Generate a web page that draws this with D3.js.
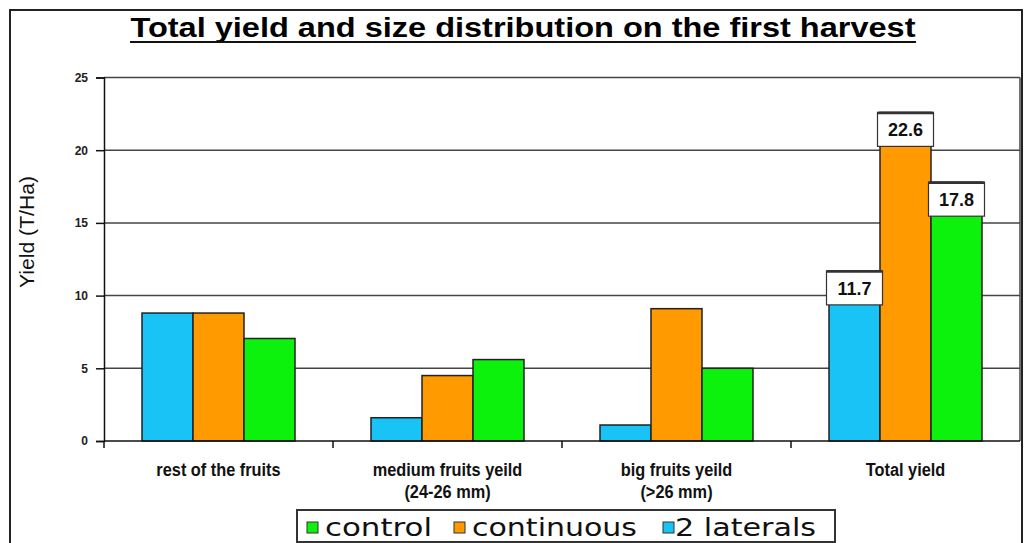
<!DOCTYPE html>
<meta charset="utf-8">
<script src="https://d3js.org/d3.v7.min.js"></script>
<style>
  body { margin: 0; background: #fff; }
  text { font-family: "Liberation Sans", Arial, sans-serif; }
</style>
<svg id="chart" width="1026" height="543"></svg>
<script>

// categories, each one split in the lines it is written on
const categories = ["rest", "medium", "big", "total"]
const categoryLines = [
  ["rest of the fruits"],
  ["medium fruits yeild", "(24-26 mm)"],
  ["big fruits yeild", "(>26 mm)"],
  ["Total yield"]
]

// series, in the order the bars are drawn inside a group
const seriesNames = ["2 laterals", "continuous", "control"]
const seriesColors = ["#19C3F5", "#FF9A00", "#0CF20C"]

// values (T/Ha)
const laterals   = [8.8, 1.6, 1.1, 11.7]
const continuous = [8.8, 4.5, 9.1, 22.6]
const control    = [7.05, 5.6, 5.0, 17.8]

const yTicks = [0, 5, 10, 15, 20, 25]
const legendOrder = ["control", "continuous", "2 laterals"]

const svg = d3.select("#chart")

const margin = {left: 104, right: 1020, top: 77.5, bottom: 441}

const values = [laterals, continuous, control]
const data = categories.map((c, i) => ({
  cat: c,
  bars: seriesNames.map((s, j) => ({series: s, value: values[j][i], color: seriesColors[j]}))
}))

// outer frame
svg.append("rect")
  .attr("x", 10).attr("y", 10)
  .attr("width", 1012).attr("height", 600)
  .attr("fill", "none")
  .attr("stroke", "#222")
  .attr("stroke-width", 2)

// title
svg.append("text")
  .attr("x", 523)
  .attr("y", 37)
  .attr("text-anchor", "middle")
  .style("font-weight", "bold")
  .style("font-size", "27px")
  .attr("textLength", 785)
  .attr("lengthAdjust", "spacingAndGlyphs")
  .text("Total yield and size distribution on the first harvest")
svg.append("line")
  .attr("x1", 130).attr("x2", 916)
  .attr("y1", 42).attr("y2", 42)
  .attr("stroke", "#111").attr("stroke-width", 2)

// scales
const x0 = d3.scaleBand()
  .domain(categories)
  .range([margin.left, margin.right])
  .padding(0)

const x1 = d3.scaleBand()
  .domain(seriesNames)
  .range([38, x0.bandwidth() - 38])
  .padding(0)

const y = d3.scaleLinear()
  .domain([0, 25])
  .range([margin.bottom, margin.top])

// gridlines
svg.append("g")
  .selectAll("line")
  .data(yTicks.filter(d => d > 0))
  .join("line")
    .attr("x1", margin.left).attr("x2", margin.right)
    .attr("y1", d => y(d)).attr("y2", d => y(d))
    .attr("stroke", "#444")
    .attr("stroke-width", 1.5)

// right edge of the plot
svg.append("line")
  .attr("x1", margin.right).attr("x2", margin.right)
  .attr("y1", margin.top).attr("y2", margin.bottom)
  .attr("stroke", "#444").attr("stroke-width", 1.5)

// y axis
const yAxis = svg.append("g")
  .attr("transform", `translate(${margin.left},0)`)
  .call(d3.axisLeft(y).tickValues(yTicks).tickSize(8).tickPadding(8))
yAxis.select(".domain").attr("stroke", "#111").attr("stroke-width", 1.5)
yAxis.selectAll(".tick line").attr("stroke", "#111").attr("stroke-width", 1.5)
yAxis.selectAll(".tick text")
  .style("font-family", "'Liberation Sans', Arial")
  .style("font-size", "12px")
  .style("font-weight", "bold")
  .attr("fill", "#222")

svg.append("text")
  .attr("transform", "translate(34,232) rotate(-90)")
  .attr("text-anchor", "middle")
  .style("font-size", "20px")
  .attr("textLength", 112)
  .attr("lengthAdjust", "spacingAndGlyphs")
  .attr("fill", "#111")
  .text("Yield (T/Ha)")

// bars
const groups = svg.append("g")
  .selectAll("g")
  .data(data)
  .join("g")
    .attr("transform", d => `translate(${x0(d.cat)},0)`)

groups.selectAll("rect")
  .data(d => d.bars)
  .join("rect")
    .attr("x", d => x1(d.series))
    .attr("y", d => y(d.value))
    .attr("width", x1.bandwidth())
    .attr("height", d => y(0) - y(d.value))
    .attr("fill", d => d.color)
    .attr("stroke", "#222")
    .attr("stroke-width", 1.5)

// x axis with ticks between categories
svg.append("line")
  .attr("x1", margin.left).attr("x2", margin.right)
  .attr("y1", y(0)).attr("y2", y(0))
  .attr("stroke", "#111").attr("stroke-width", 1.5)
svg.append("g")
  .selectAll("line")
  .data(categories)
  .join("line")
    .attr("x1", d => x0(d)).attr("x2", d => x0(d))
    .attr("y1", y(0)).attr("y2", y(0) + 7)
    .attr("stroke", "#111").attr("stroke-width", 1.5)

// category labels, slightly condensed like the original
svg.append("g")
  .selectAll("g")
  .data(categories)
  .join("g")
    .attr("transform", d => `translate(${x0(d) + x0.bandwidth() / 2},476) scale(0.86,1)`)
  .append("text")
    .attr("text-anchor", "middle")
    .style("font-weight", "bold")
    .style("font-size", "19px")
    .attr("fill", "#111")
    .selectAll("tspan")
    .data((d, i) => categoryLines[i])
    .join("tspan")
      .attr("x", 0)
      .attr("dy", (d, i) => i === 0 ? 0 : 22)
      .text(d => d)

// value labels on the total yield group
const last = data[data.length - 1]
const labels = svg.append("g")
  .attr("transform", `translate(${x0(last.cat)},0)`)
  .selectAll("g")
  .data(last.bars)
  .join("g")
    .attr("transform", d => `translate(${x1(d.series) + x1.bandwidth() / 2},${y(d.value)})`)

labels.append("rect")
  .attr("x", -28).attr("y", 0)
  .attr("width", 56).attr("height", 34)
  .attr("fill", "#fff")
  .attr("stroke", "#333")
  .attr("stroke-width", 1.2)
labels.append("line")
  .attr("x1", -28).attr("x2", 28)
  .attr("y1", 0.5).attr("y2", 0.5)
  .attr("stroke", "#333").attr("stroke-width", 2.5)
labels.append("text")
  .attr("y", 24)
  .attr("text-anchor", "middle")
  .style("font-weight", "bold")
  .style("font-size", "18px")
  .attr("fill", "#111")
  .text(d => d.value.toFixed(1))

// legend
const legendX = [307, 454, 663]
const legendW = [107, 165, 141]
svg.append("rect")
  .attr("x", 297).attr("y", 510)
  .attr("width", 538).attr("height", 32)
  .attr("fill", "#fff")
  .attr("stroke", "#333")
  .attr("stroke-width", 2)

const legend = svg.append("g")
  .selectAll("g")
  .data(legendOrder)
  .join("g")
    .attr("transform", (d, i) => `translate(${legendX[i]},0)`)
legend.append("rect")
  .attr("x", 0).attr("y", 522)
  .attr("width", 11).attr("height", 11)
  .attr("fill", d => seriesColors[seriesNames.indexOf(d)])
  .attr("stroke", "#333")
  .attr("stroke-width", 1)
legend.append("text")
  .attr("x", (d, i) => i === 2 ? 12 : 18)
  .attr("y", 536)
  .style("font-family", "'DejaVu Sans', Verdana, sans-serif")
  .style("font-size", "24px")
  .attr("fill", "#111")
  .attr("textLength", (d, i) => legendW[i])
  .attr("lengthAdjust", "spacingAndGlyphs")
  .text(d => d)

</script>
